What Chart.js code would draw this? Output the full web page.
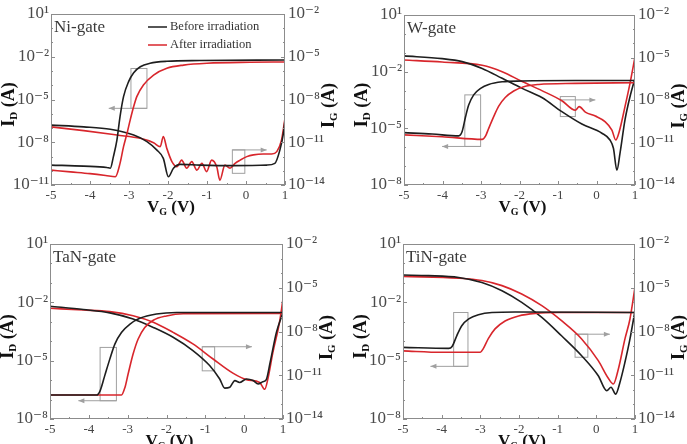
<!DOCTYPE html>
<html>
<head>
<meta charset="utf-8">
<script src="https://cdn.jsdelivr.net/npm/chart.js@4.4.1/dist/chart.umd.min.js"></script>
<style>
body { margin: 0; background: #fff; }
#fig { position: relative; width: 687px; height: 444px; overflow: hidden; }
canvas { position: absolute; }
</style>
</head>
<body>
<div id="fig">
  <canvas id="ni" width="343" height="222" style="left:0;top:0"></canvas>
  <canvas id="w" width="344" height="222" style="left:343px;top:0"></canvas>
  <canvas id="tan" width="343" height="222" style="left:0;top:222px"></canvas>
  <canvas id="tin" width="344" height="222" style="left:343px;top:222px"></canvas>
</div>
<script>
// series names and tick labels
const seriesNames = ['Before irradiation', 'After irradiation']
const vgTicks = [-5, -4, -3, -2, -1, 0, 1]
const idTicksNi = [1e1, 1e-2, 1e-5, 1e-8, 1e-11]
const idTicks = [1e1, 1e-2, 1e-5, 1e-8]
const igTicks = [1e-2, 1e-5, 1e-8, 1e-11, 1e-14]

// Ni-gate
const niVgIdBefore = [-5, -4.16, -3.57, -3.48, -3.4, -3.31, -3.23, -3.14, -3.01, -2.88, -2.71, -2.46, -2.03, -1.18, 1]
const niIdBefore = [2.5e-10, 2.1e-10, 1.7e-10, 1.5e-10, 9.8e-10, 1.4e-8, 6.3e-7, 1.6e-5, 1.8e-4, 7.6e-4, 2.0e-3, 3.5e-3, 4.8e-3, 5.4e-3, 5.9e-3]
const niVgIdAfter = [-5, -4.5, -4, -3.6, -3.35, -3.23, -3.14, -3.05, -2.97, -2.88, -2.8, -2.63, -2.37, -2.03, -1.6, -1.0, 0.1, 1]
const niIdAfter = [1.1e-10, 8.3e-11, 6.3e-11, 4.7e-11, 3.8e-11, 3.3e-10, 4.9e-9, 4.3e-8, 3.6e-7, 3.2e-6, 1.6e-5, 1.05e-4, 5.2e-4, 1.55e-3, 2.6e-3, 3.5e-3, 4.1e-3, 4.3e-3]
const niVgIgBefore = [-5, -4.16, -3.48, -2.88, -2.54, -2.29, -2.12, -1.99, -1.86, -1.69, -1.18, -0.32, 0.53, 0.74, 0.87, 0.96, 1]
const niIgBefore = [1.6e-10, 1.2e-10, 8.1e-11, 3.2e-11, 1.1e-11, 2.9e-12, 7.4e-13, 3.8e-14, 1.5e-13, 2.8e-13, 2.5e-13, 2.3e-13, 2.5e-13, 3.3e-13, 2.9e-12, 4.3e-11, 3.6e-10]
const niVgIgAfter = [-5, -4.16, -3.31, -2.71, -2.37, -2.2, -2.12, -2.03, -1.9, -1.77, -1.65, -1.52, -1.39, -1.26, -1.13, -1.01, -0.88, -0.75, -0.67, -0.54, -0.41, -0.28, -0.15, 0.02, 0.19, 0.44, 0.66, 0.79, 0.91, 1]
const niIgAfter = [1.2e-10, 6.5e-11, 3.2e-11, 1.9e-11, 9.3e-12, 4.9e-12, 2.5e-11, 3.7e-12, 4.4e-13, 1.9e-13, 5.6e-13, 1.5e-13, 4.4e-13, 1.1e-13, 3.3e-13, 8.7e-14, 5.6e-13, 1.9e-13, 2.2e-14, 2.5e-13, 1.5e-13, 3.3e-13, 5.6e-13, 9.8e-13, 1.3e-12, 1.5e-12, 1.5e-12, 2.2e-12, 1.4e-11, 4.8e-10]

// W-gate
const wVgIdBefore = [-5, -4.27, -3.58, -3.49, -3.4, -3.32, -3.19, -3.01, -2.8, -2.45, -1.93, -0.55, 1]
const wIdBefore = [5.9e-6, 5.0e-6, 4.0e-6, 6.8e-6, 4.2e-5, 1.7e-4, 5.9e-4, 1.3e-3, 2.1e-3, 2.9e-3, 3.2e-3, 3.4e-3, 3.4e-3]
const wVgIdAfter = [-5, -4.01, -2.97, -2.88, -2.8, -2.67, -2.54, -2.37, -2.15, -1.89, -1.5, -0.55, 1]
const wIdAfter = [4.5e-6, 3.6e-6, 2.6e-6, 4.0e-6, 1.0e-5, 4.2e-5, 1.5e-4, 4.3e-4, 9.5e-4, 1.6e-3, 2.1e-3, 2.4e-3, 2.6e-3]
const wVgIgBefore = [-5, -4.01, -3.49, -2.97, -2.45, -1.93, -1.42, -0.9, -0.38, 0.14, 0.35, 0.44, 0.53, 0.61, 0.74, 0.87, 1]
const wIgBefore = [1.3e-5, 8.3e-6, 5.1e-6, 1.7e-6, 3.4e-7, 6.6e-8, 1.5e-8, 1.5e-9, 2.0e-10, 4.5e-11, 1.5e-11, 3.9e-12, 1.1e-13, 1.7e-12, 3.9e-10, 1.7e-8, 3.4e-7]
const wVgIgAfter = [-5, -4.01, -2.97, -2.45, -1.93, -1.42, -0.9, -0.55, -0.45, -0.29, -0.03, 0.22, 0.4, 0.5, 0.59, 0.74, 0.87, 1]
const wIgAfter = [6.6e-6, 4.8e-6, 2.8e-6, 1.0e-6, 2.0e-7, 4.6e-8, 8.9e-9, 1.9e-9, 3.4e-9, 1.4e-9, 7.4e-10, 3.0e-10, 7.6e-11, 1.5e-11, 5.8e-11, 3.4e-9, 1.5e-7, 1.1e-5]

// TaN-gate
const tanVgIdBefore = [-5, -3.8, -3.71, -3.59, -3.46, -3.33, -3.16, -2.94, -2.69, -2.26, -1.74, 1]
const tanIdBefore = [1.7e-7, 1.7e-7, 2.8e-7, 1.7e-6, 1.2e-5, 7.1e-5, 2.8e-4, 7.6e-4, 1.5e-3, 2.5e-3, 3.0e-3, 3.0e-3]
const tanVgIdAfter = [-5, -3.16, -3.07, -2.99, -2.86, -2.73, -2.56, -2.34, -2.0, -1.57, 1]
const tanIdAfter = [1.7e-7, 1.7e-7, 4.2e-7, 2.0e-6, 2.2e-5, 1.3e-4, 5.1e-4, 1.2e-3, 2.0e-3, 2.6e-3, 2.7e-3]
const tanVgIgBefore = [-5, -4.14, -3.46, -2.86, -2.34, -1.83, -1.32, -0.89, -0.63, -0.5, -0.37, -0.24, -0.12, 0.06, 0.23, 0.36, 0.48, 0.57, 0.67, 0.83, 1]
const tanIgBefore = [5.4e-7, 3.2e-7, 1.9e-7, 7.2e-8, 1.9e-8, 4.0e-9, 4.9e-10, 4.6e-11, 5.5e-12, 1.3e-12, 1.5e-12, 4.3e-12, 3.2e-12, 5.5e-12, 4.3e-12, 2.5e-12, 3.6e-12, 5.0e-12, 7.8e-11, 8.7e-9, 2.0e-7]
const tanVgIgAfter = [-5, -4.14, -3.46, -2.86, -2.34, -1.83, -1.32, -0.8, -0.29, 0.06, 0.4, 0.53, 0.61, 0.74, 0.91, 1]
const tanIgAfter = [3.9e-7, 3.0e-7, 2.3e-7, 1.2e-7, 4.3e-8, 8.7e-9, 1.4e-9, 1.3e-10, 1.4e-11, 5.0e-12, 3.2e-12, 1.1e-12, 5.5e-12, 3.7e-10, 4.3e-8, 1.7e-6]

// TiN-gate
const tinVgIdBefore = [-5, -3.82, -3.73, -3.61, -3.48, -3.3, -3.05, -2.7, -2.1, 1]
const tinIdBefore = [4.8e-5, 4.3e-5, 5.4e-5, 1.9e-4, 6.3e-4, 1.4e-3, 2.3e-3, 3.0e-3, 3.2e-3, 3.0e-3]
const tinVgIdAfter = [-5, -3.99, -3.0, -2.92, -2.79, -2.62, -2.36, -2.01, -1.58, -0.98, 1]
const tinIdAfter = [3.2e-5, 2.7e-5, 2.7e-5, 4.3e-5, 1.4e-4, 4.3e-4, 1.1e-3, 2.0e-3, 2.7e-3, 3.0e-3, 3.0e-3]
const tinVgIgBefore = [-5, -4.34, -3.56, -2.96, -2.44, -1.93, -1.41, -0.9, -0.38, 0.05, 0.27, 0.38, 0.5, 0.61, 0.74, 0.87, 1]
const tinIgBefore = [7.4e-5, 6.8e-5, 5.1e-5, 2.3e-5, 6.3e-6, 1.0e-6, 9.3e-8, 5.1e-9, 2.2e-10, 9.3e-12, 8.7e-13, 1.5e-12, 5.1e-13, 3.2e-12, 7.8e-11, 3.1e-9, 2.7e-7]
const tinVgIgAfter = [-5, -3.56, -2.96, -2.44, -1.93, -1.41, -0.9, -0.38, 0.05, 0.31, 0.44, 0.57, 0.74, 0.87, 1]
const tinIgAfter = [6.0e-5, 4.5e-5, 3.1e-5, 1.4e-5, 3.7e-6, 5.9e-7, 5.5e-8, 3.1e-9, 1.0e-10, 6.2e-12, 2.5e-12, 2.7e-11, 3.1e-9, 7.2e-8, 1.1e-5]

// boxes [v0, v1, i0, i1] and arrows [vFrom, vTo, i] marking which axis a curve belongs to
const niMarks = { boxes: [[-2.95, -2.54, 1.5e-3, 2.4e-6], [-0.35, -0.03, 2.9e-9, 6.6e-11]], arrows: [[-2.54, -3.52, 2.4e-6], [-0.35, 0.53, 2.9e-9]] }
const wMarks = { boxes: [[-3.42, -3.01, 5.9e-4, 1.1e-6], [-0.94, -0.55, 4.8e-4, 4.2e-5]], arrows: [[-3.01, -4.01, 1.1e-6], [-0.94, -0.03, 3.2e-4]] }
const tanMarks = { boxes: [[-3.71, -3.29, 4.8e-5, 8.7e-8], [-1.08, -0.76, 5.2e-5, 3.0e-6]], arrows: [[-3.29, -4.27, 8.7e-8], [-1.08, 0.2, 5.2e-5]] }
const tinMarks = { boxes: [[-3.69, -3.32, 3.0e-3, 5.1e-6], [-0.55, -0.22, 2.3e-4, 1.5e-5]], arrows: [[-3.32, -4.29, 5.1e-6], [-0.55, 0.35, 2.3e-4]] }

const BLACK = '#1e1e1e'
const RED = '#d8262c'
const GRAY = '#8c8c8c'
const SERIF = '"Liberation Serif", "DejaVu Serif", serif'

const sup = { '-': '\u207b', '0': '\u2070', '1': '\u00b9', '2': '\u00b2', '3': '\u00b3', '4': '\u2074', '5': '\u2075', '6': '\u2076', '7': '\u2077', '8': '\u2078', '9': '\u2079' }
const powLabel = v => '10' + String(Math.round(Math.log10(v))).split('').map(c => sup[c]).join('')

const drawParts = (ctx, parts, x, y, rotate) => {
    ctx.save()
    ctx.translate(x, y)
    if (rotate) ctx.rotate(-Math.PI / 2)
    let w = 0
    parts.forEach(p => { ctx.font = `bold ${p[1]}px ${SERIF}`; w += ctx.measureText(p[0]).width })
    let cx = -w / 2
    ctx.fillStyle = '#111'
    ctx.textBaseline = 'alphabetic'
    parts.forEach(p => {
        ctx.font = `bold ${p[1]}px ${SERIF}`
        ctx.fillText(p[0], cx, p[2])
        cx += ctx.measureText(p[0]).width
    })
    ctx.restore()
}

const arrowHead = (ctx, x, y, dir) => {
    ctx.beginPath()
    ctx.moveTo(x, y)
    ctx.lineTo(x - dir * 6, y - 2.5)
    ctx.lineTo(x - dir * 6, y + 2.5)
    ctx.closePath()
    ctx.fill()
}

const decor = {
    id: 'decor',
    beforeDatasetsDraw(chart, args, opts) {
        const { ctx, scales } = chart
        const x = scales.x, yL = scales.yL
        ctx.save()
        ctx.strokeStyle = '#a0a0a0'
        ctx.fillStyle = '#a0a0a0'
        ctx.lineWidth = 1
        opts.marks.boxes.forEach(b => {
            const x0 = x.getPixelForValue(b[0]), x1 = x.getPixelForValue(b[1])
            const y0 = yL.getPixelForValue(b[2]), y1 = yL.getPixelForValue(b[3])
            ctx.strokeRect(x0, y0, x1 - x0, y1 - y0)
        })
        opts.marks.arrows.forEach(r => {
            const x0 = x.getPixelForValue(r[0]), x1 = x.getPixelForValue(r[1])
            const yy = yL.getPixelForValue(r[2])
            ctx.beginPath()
            ctx.moveTo(x0, yy)
            ctx.lineTo(x1, yy)
            ctx.stroke()
            arrowHead(ctx, x1, yy, x1 > x0 ? 1 : -1)
        })
        ctx.restore()
    },
    afterDraw(chart, args, opts) {
        const { ctx, chartArea: a, scales } = chart
        ctx.save()
        // frame and inward ticks
        ctx.strokeStyle = GRAY
        ctx.lineWidth = 1
        ctx.strokeRect(a.left + 0.5, a.top + 0.5, a.right - a.left - 1, a.bottom - a.top - 1)
        ctx.beginPath()
        for (let v = -5; v <= 1.001; v += 0.5) {
            const px = Math.round(scales.x.getPixelForValue(v)) + 0.5
            const len = Number.isInteger(v) ? 4 : 2
            ctx.moveTo(px, a.bottom); ctx.lineTo(px, a.bottom - len)
        }
        const side = (sc, xEdge, dir) => {
            const lo = Math.round(Math.log10(sc.min)), hi = Math.round(Math.log10(sc.max))
            for (let e = lo; e <= hi; e++) {
                const py = Math.round(sc.getPixelForValue(Math.pow(10, e))) + 0.5
                const len = (e - hi) % 3 === 0 ? 4 : 2
                ctx.moveTo(xEdge, py); ctx.lineTo(xEdge + dir * len, py)
            }
        }
        side(scales.yL, a.left, 1)
        side(scales.yR, a.right, -1)
        ctx.stroke()

        // panel name
        ctx.fillStyle = '#3a3a3a'
        ctx.font = `17px ${SERIF}`
        ctx.textBaseline = 'middle'
        ctx.textAlign = 'left'
        ctx.fillText(opts.name, a.left + 3, a.top + 14)

        // legend
        if (opts.legend) {
            chart.data.datasets.slice(0, 2).forEach((ds, i) => {
                const ly = a.top + 13 + i * 18
                ctx.strokeStyle = ds.borderColor
                ctx.lineWidth = 1.5
                ctx.beginPath()
                ctx.moveTo(a.left + 97, ly); ctx.lineTo(a.left + 116, ly)
                ctx.stroke()
                ctx.fillStyle = '#333'
                ctx.font = `12.5px ${SERIF}`
                ctx.fillText(ds.label, a.left + 119, ly)
            })
        }
        ctx.restore()

        // axis titles
        const midY = (a.top + a.bottom) / 2
        drawParts(ctx, [['I', 18, 6], ['D', 11, 9], [' (A)', 18, 6]], a.left - 43, midY + 5, true)
        drawParts(ctx, [['I', 18, 6], ['G', 11, 9], [' (A)', 18, 6]], a.right + 43, midY + 6, true)
        drawParts(ctx, [['V', 17, 6], ['G', 10, 9], [' (V)', 17, 6]], (a.left + a.right) / 2 + 3, a.bottom + 21, false)
    }
}

const line = (label, xs, ys, color, axis) => ({
    label: label,
    data: xs.map((v, i) => ({ x: v, y: ys[i] })),
    borderColor: color,
    backgroundColor: color,
    borderWidth: 1.6,
    pointRadius: 0,
    fill: false,
    cubicInterpolationMode: 'monotone',
    yAxisID: axis
})

const panels = [
    { id: 'ni', name: 'Ni-gate', top: 14, leftW: 51, rightW: 58, bottomH: 37, idMin: 1e-11, idT: idTicksNi, legend: true, marks: niMarks,
      sets: [niVgIdBefore, niIdBefore, niVgIdAfter, niIdAfter, niVgIgBefore, niIgBefore, niVgIgAfter, niIgAfter] },
    { id: 'w', name: 'W-gate', top: 15, leftW: 61, rightW: 52, bottomH: 37, idMin: 1e-8, idT: idTicks, legend: false, marks: wMarks,
      sets: [wVgIdBefore, wIdBefore, wVgIdAfter, wIdAfter, wVgIgBefore, wIgBefore, wVgIgAfter, wIgAfter] },
    { id: 'tan', name: 'TaN-gate', top: 22, leftW: 50, rightW: 60, bottomH: 25, idMin: 1e-8, idT: idTicks, legend: false, marks: tanMarks,
      sets: [tanVgIdBefore, tanIdBefore, tanVgIdAfter, tanIdAfter, tanVgIgBefore, tanIgBefore, tanVgIgAfter, tanIgAfter] },
    { id: 'tin', name: 'TiN-gate', top: 22, leftW: 60, rightW: 52, bottomH: 25, idMin: 1e-8, idT: idTicks, legend: false, marks: tinMarks,
      sets: [tinVgIdBefore, tinIdBefore, tinVgIdAfter, tinIdAfter, tinVgIgBefore, tinIgBefore, tinVgIgAfter, tinIgAfter] }
]

const tickFont = { family: SERIF, size: 17 }

panels.forEach(p => {
    const s = p.sets
    new Chart(document.getElementById(p.id), {
        type: 'line',
        data: {
            datasets: [
                line(seriesNames[0], s[0], s[1], BLACK, 'yL'),
                line(seriesNames[1], s[2], s[3], RED, 'yL'),
                line(seriesNames[0], s[4], s[5], BLACK, 'yR'),
                line(seriesNames[1], s[6], s[7], RED, 'yR')
            ]
        },
        options: {
            responsive: false,
            animation: false,
            devicePixelRatio: 1,
            layout: { padding: { top: p.top, left: 0, right: 0, bottom: 0 } },
            plugins: { legend: { display: false }, tooltip: { enabled: false }, decor: { name: p.name, legend: p.legend, marks: p.marks } },
            scales: {
                x: {
                    type: 'linear', min: -5, max: 1,
                    afterFit: sc => { sc.height = p.bottomH },
                    afterBuildTicks: sc => { sc.ticks = vgTicks.map(v => ({ value: v })) },
                    ticks: { font: { family: SERIF, size: 13 }, color: '#444', padding: 3, maxRotation: 0, autoSkip: false, callback: v => String(v) },
                    grid: { display: false, drawTicks: false },
                    border: { display: false }
                },
                yL: {
                    type: 'logarithmic', position: 'left', min: p.idMin, max: 10,
                    afterFit: sc => { sc.width = p.leftW },
                    afterBuildTicks: sc => { sc.ticks = p.idT.map(v => ({ value: v })) },
                    ticks: { font: tickFont, color: '#4a4a4a', padding: 2, autoSkip: false, callback: v => powLabel(v) },
                    grid: { display: false, drawTicks: false },
                    border: { display: false }
                },
                yR: {
                    type: 'logarithmic', position: 'right', min: 1e-14, max: 1e-2,
                    afterFit: sc => { sc.width = p.rightW },
                    afterBuildTicks: sc => { sc.ticks = igTicks.map(v => ({ value: v })) },
                    ticks: { font: tickFont, color: '#4a4a4a', padding: 3, autoSkip: false, callback: v => powLabel(v) },
                    grid: { display: false, drawTicks: false },
                    border: { display: false }
                }
            }
        },
        plugins: [decor]
    })
})
</script>
</body>
</html>
